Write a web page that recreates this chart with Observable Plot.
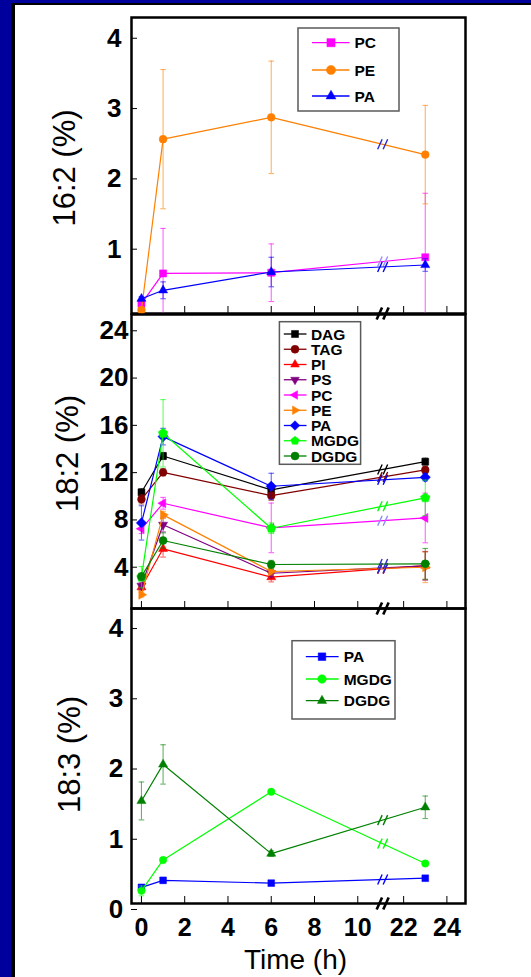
<!DOCTYPE html>
<html><head><meta charset="utf-8">
<script src="https://cdn.jsdelivr.net/npm/d3@7"></script>
<script src="https://cdn.jsdelivr.net/npm/@observablehq/plot@0.6"></script>
<style>
html,body{margin:0;padding:0}
body{width:531px;height:977px;background:#00009c;position:relative;overflow:hidden;font-family:"Liberation Sans",Arial,sans-serif}
#sheet{position:absolute;left:11px;top:3px;width:520px;height:974px;background:#fff;border-left:4px solid #000;border-top:2px solid #000;box-sizing:border-box}
.panel{position:absolute;left:0}
.panel svg{overflow:visible;display:block}
svg.legend{position:absolute;left:0;top:0;overflow:visible}
</style></head><body>
<div id="sheet"></div>
<div id="charts"></div>
<script>
// ---------------- data ----------------
const time = [0, 1, 6, 23];
const xTickLabels = [0, 2, 4, 6, 8, 10, 22, 24];

// 16:2 (%)
const pc162 = [0.14, 0.57, 0.58, 0.80];
const pc162Err = [0.03, 0.64, 0.41, 0.91];
const pe162 = [0.05, 2.48, 2.79, 2.26];
const pe162Err = [0, 0.99, 0.80, 0.70];
const pa162 = [0.21, 0.33, 0.59, 0.69];
const pa162Err = [0.03, 0.12, 0.21, 0.09];
const yTicks162 = [1, 2, 3, 4];

// 18:2 (%)
const dag182 = [9.83, 12.9, 10.03, 12.42];
const dag182Err = [0.3, 0.3, 0.5, 0.3];
const tag182 = [9.24, 11.52, 9.55, 11.72];
const tag182Err = [0.4, 0.3, 0.4, 0.3];
const pi182 = [1.8, 5.05, 2.65, 3.63];
const pi182Err = [0.3, 0.7, 0.4, 1.2];
const ps182 = [1.92, 7.08, 2.98, 3.6];
const ps182Err = [0.3, 0.6, 0.3, 1.2];
const pc182 = [6.74, 8.9, 6.82, 7.66];
const pc182Err = [0.4, 0.5, 2.1, 2.1];
const pe182 = [1.16, 7.92, 3.13, 3.49];
const pe182Err = [0.2, 0.3, 0.3, 1.3];
const pa182 = [7.24, 14.54, 10.34, 11.1];
const pa182Err = [1.45, 0.7, 1.1, 0.3];
const mgdg182 = [2.65, 14.82, 6.79, 9.36];
const mgdg182Err = [0.9, 2.85, 0.45, 1.5];
const dgdg182 = [2.7, 5.75, 3.72, 3.78];
const dgdg182Err = [0.3, 0.65, 0.35, 1.3];
const yTicks182 = [4, 8, 12, 16, 20, 24];

// 18:3 (%)
const pa183 = [0.23, 0.33, 0.29, 0.36];
const pa183Err = [0.03, 0.04, 0.02, 0.02];
const mgdg183 = [0.18, 0.62, 1.59, 0.57];
const mgdg183Err = [0.07, 0.02, 0.02, 0.02];
const dgdg183 = [1.46, 1.98, 0.71, 1.37];
const dgdg183Err = [0.27, 0.28, 0.04, 0.16];
const yTicks183 = [0, 1, 2, 3, 4];

// ---------------- broken time axis ----------------
const toU = t => t <= 11 ? t : t - 9.88;
const breakU = 11.15;
const xDomain = [-0.46, 14.98];
const xTickU = xTickLabels.map(toU);
const labelOf = new Map(xTickU.map((u, i) => [u, String(xTickLabels[i])]));

// ---------------- symbols ----------------
const poly = (n, rot, k) => ({draw(ctx, size) {
  const R = Math.sqrt(size / Math.PI) * k;
  for (let i = 0; i < n; i++) {
    const a = (rot - 90 + i * 360 / n) * Math.PI / 180;
    const x = R * Math.cos(a), y = R * Math.sin(a);
    i ? ctx.lineTo(x, y) : ctx.moveTo(x, y);
  }
  ctx.closePath();
}});
const SYM = {
  square: d3.symbolSquare,
  circle: d3.symbolCircle,
  triUp: poly(3, 0, 1.25),
  triDown: poly(3, 180, 1.25),
  triLeft: poly(3, -90, 1.25),
  triRight: poly(3, 90, 1.25),
  diamond: poly(4, 0, 1.2),
  pentagon: poly(5, 0, 1.1)
};
const capSymbol = {draw(ctx, size) { const r = Math.sqrt(size / Math.PI); ctx.moveTo(-r, 0); ctx.lineTo(r, 0); }};
const breakSymbol = {draw(ctx, size) {
  const r = Math.sqrt(size / Math.PI), k = r * 0.45, g = r * 0.55;
  ctx.moveTo(-g - k, r); ctx.lineTo(-g + k, -r);
  ctx.moveTo(g - k, r); ctx.lineTo(g + k, -r);
}};

// ---------------- panels ----------------
const panels = [
  {
    title: "16:2 (%)", yDomain: [0, 4.21], yTicks: yTicks162,
    top: 0, height: 314, mt: 17, mb: 1, tickPad: 16, titleDx: -66.7, titleDy: 2.5, labels: false,
    series: [
      {name: "PC", v: pc162, e: pc162Err, color: "#ff00ff", sym: "square", r: 4, brk: "#9a8cff"},
      {name: "PE", v: pe162, e: pe162Err, color: "#ff8000", sym: "circle", r: 3.9, brk: "#2a2ad0"},
      {name: "PA", v: pa162, e: pa162Err, color: "#0000ff", sym: "triUp", r: 4.2, brk: "#0000ff"}
    ],
    legend: {x: 298, y: 28, w: 101, h: 83, rows: [42.7, 70, 96], l0: 312, l1: 349.5, m: 331, tx: 354.5, r: 4.6}
  },
  {
    title: "18:2 (%)", yDomain: [0, 24.87], yTicks: yTicks182,
    top: 313, height: 296, mt: 1, mb: 1, tickPad: 9, titleDx: -63.3, titleDy: -8, labels: false,
    series: [
      {name: "DAG", v: dag182, e: dag182Err, color: "#000000", sym: "square", r: 3.9},
      {name: "TAG", v: tag182, e: tag182Err, color: "#800000", sym: "circle", r: 3.9},
      {name: "PI", v: pi182, e: pi182Err, color: "#ff0000", sym: "triUp", r: 4.2},
      {name: "PS", v: ps182, e: ps182Err, color: "#800080", sym: "triDown", r: 4.2},
      {name: "PC", v: pc182, e: pc182Err, color: "#ff00ff", sym: "triLeft", r: 4.2, brk: "#8c8cff"},
      {name: "PE", v: pe182, e: pe182Err, color: "#ff8000", sym: "triRight", r: 4.2, brk: "#2a2ad0"},
      {name: "PA", v: pa182, e: pa182Err, color: "#0000ff", sym: "diamond", r: 4.3},
      {name: "MGDG", v: mgdg182, e: mgdg182Err, color: "#00ff00", sym: "pentagon", r: 4.5},
      {name: "DGDG", v: dgdg182, e: dgdg182Err, color: "#008000", sym: "circle", r: 4, brk: "#2a2ad0"}
    ],
    legend: {x: 279.4, y: 321.7, w: 81.2, h: 142.6, rows: d3.range(9).map(i => 334 + i * 15.25), l0: 283.8, l1: 306.5, m: 295, tx: 310.9, r: 4}
  },
  {
    title: "18:3 (%)", yDomain: [0, 4.2], yTicks: yTicks183,
    top: 607, height: 370, mt: 1, mb: 74, tickPad: 14.4, titleDx: -61.6, titleDy: -1.5, labels: true,
    series: [
      {name: "PA", v: pa183, e: pa183Err, color: "#0000ff", sym: "square", r: 3.8},
      {name: "MGDG", v: mgdg183, e: mgdg183Err, color: "#00ff00", sym: "circle", r: 3.7},
      {name: "DGDG", v: dgdg183, e: dgdg183Err, color: "#008000", sym: "triUp", r: 4.2}
    ],
    legend: {x: 292, y: 640.7, w: 103, h: 78.3, rows: [656.7, 679, 700.7], l0: 305.8, l1: 338.6, m: 322, tx: 343.7, r: 4.3}
  }
];

const FONT = '"Liberation Sans", Arial, sans-serif';
const charts = document.getElementById("charts");

for (const P of panels) {
  const marks = [
    Plot.frame({stroke: "black", strokeWidth: 2.5}),
    Plot.axisY(P.yTicks, {anchor: "left", tickSize: -6, tickPadding: P.tickPad, dy: 6, fontSize: 26, fontWeight: "bold", label: null,
      tickFormat: d => String(d), stroke: "black", strokeWidth: 1}),
    Plot.axisX(xTickU, {anchor: "bottom", tickSize: -7, tickPadding: 22, fontSize: 25, fontWeight: "bold", label: null,
      tickFormat: P.labels ? (u => labelOf.get(u)) : (() => ""), stroke: "black", strokeWidth: 1}),
    Plot.text([P.title], {frameAnchor: "left", rotate: -90, dx: P.titleDx, dy: P.titleDy, fontSize: 31, lineAnchor: "middle", textAnchor: "middle", fill: "black"})
  ];
  if (P.labels) {
    marks.push(Plot.text(["Time (h)"], {frameAnchor: "bottom", dy: 57, dx: -3, fontSize: 28, lineAnchor: "middle", textAnchor: "middle", fill: "black"}));
  }
  for (const s of P.series) {
    const rows = time.map((t, i) => ({u: toU(t), v: s.v[i], e: s.e[i]}));
    const errRows = rows.filter(d => d.e > 0);
    const caps = errRows.flatMap(d => {
      const out = [{u: d.u, y: d.v + d.e}];
      if (d.v - d.e >= 0) out.push({u: d.u, y: d.v - d.e});
      return out;
    });
    const u6 = toU(6), u23 = toU(23);
    const vb = s.v[2] + (s.v[3] - s.v[2]) * (breakU - u6) / (u23 - u6);
    marks.push(
      Plot.line(rows, {x: "u", y: "v", stroke: s.color, strokeWidth: 1.2}),
      Plot.ruleX(errRows, {x: "u", y1: d => Math.max(0, d.v - d.e), y2: d => d.v + d.e, stroke: s.color, strokeOpacity: 0.6, strokeWidth: 1.1}),
      Plot.dot(caps, {x: "u", y: "y", symbol: capSymbol, r: 2.8, stroke: s.color, strokeOpacity: 0.6, strokeWidth: 1.1, fill: "none"}),
      Plot.dot([{u: breakU, v: vb}], {x: "u", y: "v", symbol: breakSymbol, r: 5, stroke: s.brk || s.color, strokeWidth: 1.4, fill: "none"}),
      Plot.dot(rows, {x: "u", y: "v", symbol: SYM[s.sym], r: s.r, fill: s.color, stroke: s.color, strokeWidth: 0.5})
    );
  }
  marks.push(Plot.dot([{u: breakU, v: P.yDomain[0]}], {x: "u", y: "v", symbol: breakSymbol, r: 6, stroke: "black", strokeWidth: 2.6, fill: "none"}));

  const svg = Plot.plot({
    width: 531, height: P.height,
    marginLeft: 131, marginRight: 66, marginTop: P.mt, marginBottom: P.mb,
    x: {domain: xDomain, axis: null},
    y: {domain: P.yDomain, axis: null},
    style: {fontFamily: FONT, color: "black", background: "transparent", overflow: "visible"},
    marks
  });
  const wrap = document.createElement("div");
  wrap.className = "panel";
  wrap.style.top = P.top + "px";
  wrap.appendChild(svg);
  charts.appendChild(wrap);

  // legend (inside plot area)
  const L = P.legend;
  const lg = d3.select(document.body).append("svg").attr("class", "legend").attr("width", 531).attr("height", 977);
  lg.append("rect").attr("x", L.x).attr("y", L.y).attr("width", L.w).attr("height", L.h)
    .attr("fill", "white").attr("stroke", "#5a5a5a").attr("stroke-width", 1.5);
  P.series.forEach((s, i) => {
    const y = L.rows[i];
    lg.append("line").attr("x1", L.l0).attr("x2", L.l1).attr("y1", y).attr("y2", y).attr("stroke", s.color).attr("stroke-width", 1.3);
    lg.append("path").attr("transform", `translate(${L.m},${y})`)
      .attr("d", d3.symbol(SYM[s.sym], L.r * L.r * Math.PI)()).attr("fill", s.color).attr("stroke", s.color).attr("stroke-width", 0.5);
    lg.append("text").attr("x", L.tx).attr("y", y).attr("dy", "0.36em").attr("font-family", FONT)
      .attr("font-weight", "bold").attr("font-size", 15.5).attr("fill", "black").text(s.name);
  });
}
</script></body></html>
